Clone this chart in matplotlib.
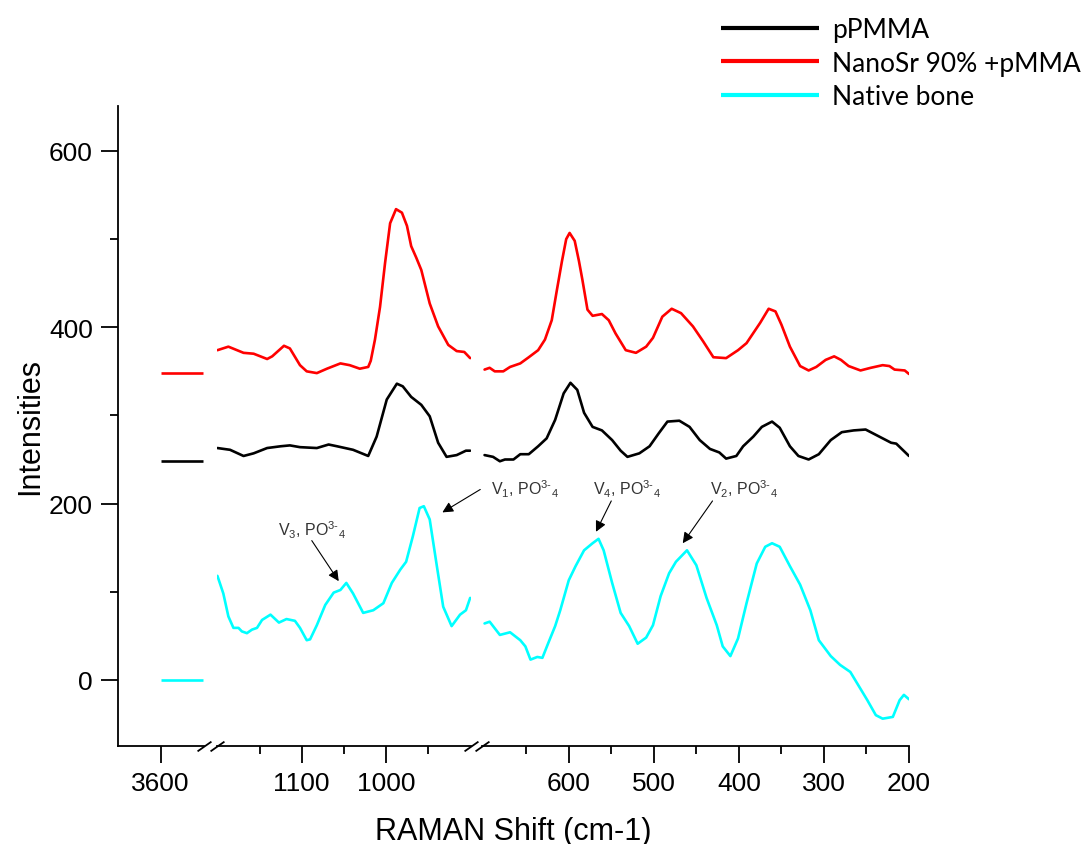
import numpy as np
import matplotlib.pyplot as plt
from matplotlib.lines import Line2D

plt.rcParams['font.family'] = ['Liberation Sans', 'DejaVu Sans']
plt.rcParams['mathtext.fontset'] = 'custom'
plt.rcParams['mathtext.rm'] = 'Liberation Sans'
plt.rcParams['mathtext.it'] = 'Liberation Sans:italic'
plt.rcParams['mathtext.default'] = 'rm'
plt.rcParams['lines.solid_joinstyle'] = 'round'
plt.rcParams['lines.solid_capstyle'] = 'round'

# ---- data ----
# short stubs near 3600 cm-1
stub_x = [3600, 3550]
stub_red = [348, 348]
stub_black = [248, 248]
stub_cyan = [0, 0]

# 1200-900 cm-1 window
red_hi_x = [1200, 1187, 1169, 1157, 1141, 1135, 1121, 1114, 1102, 1094, 1082, 1070, 1054, 1043,
            1031, 1021, 1018, 1013, 1007, 1001, 995, 988, 981, 975, 970, 964, 958, 948, 938,
            926, 916, 907, 900]
red_hi_y = [374, 378, 371, 370, 364, 367, 379, 376, 357, 350, 348, 353, 359, 357,
            353, 355, 362, 386, 423, 473, 518, 534, 530, 515, 492, 479, 465, 427, 401,
            380, 373, 372, 365]

black_hi_x = [1200, 1185, 1169, 1157, 1141, 1125, 1114, 1102, 1082, 1068, 1058, 1039, 1021, 1011,
              999, 987, 980, 970, 958, 948, 938, 928, 916, 905, 900]
black_hi_y = [263, 261, 254, 257, 263, 265, 266, 264, 263, 267, 265, 261, 254, 276,
              318, 336, 333, 321, 312, 299, 269, 253, 255, 260, 260]

cyan_hi_x = [1200, 1193, 1187, 1181, 1175, 1171, 1165, 1159, 1153, 1147, 1137, 1127, 1118, 1108,
             1102, 1094, 1090, 1082, 1072, 1062, 1054, 1047, 1039, 1027, 1015, 1003, 993, 983,
             976, 968, 960, 955, 948, 940, 932, 922, 912, 905, 900]
cyan_hi_y = [118, 98, 72, 59, 59, 55, 53, 57, 59, 68, 74, 65, 69, 67,
             59, 45, 46, 62, 85, 99, 102, 110, 98, 76, 79, 87, 110, 125,
             134, 163, 195, 197, 182, 132, 83, 61, 74, 79, 93]

# 700-200 cm-1 window
red_lo_x = [699, 693, 687, 677, 669, 657, 647, 636, 628, 620, 614, 608, 603, 599, 593, 588, 584,
            578, 572, 561, 553, 545, 533, 521, 509, 501, 490, 479, 468, 454, 442, 430, 415, 401,
            391, 375, 365, 357, 350, 340, 328, 318, 309, 298, 288, 280, 271, 257, 245, 231, 223,
            217, 205, 200]
red_lo_y = [352, 354, 350, 350, 355, 359, 366, 374, 386, 408, 442, 475, 500, 507, 498, 475, 454,
            420, 413, 415, 408, 393, 374, 371, 378, 388, 412, 421, 416, 401, 384, 366, 365, 374,
            382, 405, 421, 418, 403, 378, 356, 351, 355, 363, 367, 363, 356, 351, 354, 357, 356,
            352, 351, 347]

black_lo_x = [699, 689, 681, 675, 665, 657, 647, 636, 626, 616, 606, 598, 590, 582, 572, 561, 549,
              539, 531, 517, 505, 494, 484, 470, 458, 446, 434, 423, 415, 403, 395, 383, 373, 361,
              352, 340, 330, 318, 306, 292, 279, 265, 251, 237, 221, 215, 200]
black_lo_y = [255, 253, 248, 250, 250, 256, 256, 265, 274, 295, 325, 337, 329, 303, 287, 283, 272,
              260, 253, 257, 265, 280, 293, 294, 287, 272, 262, 258, 251, 254, 265, 276, 287, 293,
              286, 265, 254, 250, 256, 272, 281, 283, 284, 277, 269, 268, 254]

cyan_lo_x = [699, 693, 681, 669, 657, 651, 645, 637, 631, 624, 616, 610, 600, 592, 582, 572, 565,
             559, 549, 539, 529, 519, 509, 501, 492, 482, 474, 461, 450, 438, 426, 419, 410, 401,
             391, 379, 369, 361, 352, 340, 328, 316, 306, 292, 281, 269, 259, 249, 239, 231, 219,
             211, 206, 200]
cyan_lo_y = [64, 66, 51, 54, 45, 38, 23, 26, 25, 42, 61, 79, 113, 129, 147, 155, 160,
             147, 110, 76, 61, 41, 48, 62, 95, 121, 134, 147, 130, 93, 62, 38, 27, 47,
             87, 132, 151, 155, 151, 129, 108, 79, 45, 27, 17, 9, -7, -23, -40, -44, -42,
             -23, -17, -22]

labels = ['pPMMA', 'NanoSr 90% +pMMA', 'Native bone']
colors = ['black', '#ff0000', '#00ffff']

# peak labels: (text, text x, text y, arrow tail, arrow tip)
peak_hi = [('V$_3$, PO$^{3\\text{-}}{}_4$', 1128, 164, (1088, 158), (1056, 112))]
peak_gap = [((888, 216), (933, 190))]
peak_lo = [('V$_1$, PO$^{3\\text{-}}{}_4$', 691, 210, None, None),
           ('V$_4$, PO$^{3\\text{-}}{}_4$', 571, 210, (550, 203), (568, 168)),
           ('V$_2$, PO$^{3\\text{-}}{}_4$', 434, 210, (431, 203), (466, 155))]

# ---- figure: broken x axis built from three panels ----
W, H = 1086, 845
fig = plt.figure(figsize=(W / 100, H / 100), dpi=100)


def panel(x0, x1):
    return fig.add_axes([x0 / W, 1 - 747 / H, (x1 - x0) / W, (747 - 107) / H])


ax1 = panel(118, 204)
ax2 = panel(217, 471)
ax3 = panel(482, 909)

lw = 1.9
ax1.plot(stub_x, stub_black, color=colors[0], lw=lw, solid_capstyle='butt')
ax1.plot(stub_x, stub_red, color=colors[1], lw=lw, solid_capstyle='butt')
ax1.plot(stub_x, stub_cyan, color=colors[2], lw=lw, solid_capstyle='butt')
ax2.plot(black_hi_x, black_hi_y, color=colors[0], lw=lw)
ax2.plot(red_hi_x, red_hi_y, color=colors[1], lw=lw)
ax2.plot(cyan_hi_x, cyan_hi_y, color=colors[2], lw=lw)
ax3.plot(black_lo_x, black_lo_y, color=colors[0], lw=lw)
ax3.plot(red_lo_x, red_lo_y, color=colors[1], lw=lw)
ax3.plot(cyan_lo_x, cyan_lo_y, color=colors[2], lw=lw)

ax1.set_xlim(3650, 3549)
ax2.set_xlim(1200.5, 899)
ax3.set_xlim(702, 200)
ax1.set_xticks([3600])
ax2.set_xticks([1100, 1000])
ax2.set_xticks([1150, 1050, 950], minor=True)
ax3.set_xticks([600, 500, 400, 300, 200])
ax3.set_xticks([650, 550, 450, 350, 250], minor=True)

for ax in (ax1, ax2, ax3):
    ax.set_ylim(-75, 651)
    ax.spines['top'].set_visible(False)
    ax.spines['right'].set_visible(False)
    ax.spines['bottom'].set_linewidth(1.3)
    ax.tick_params(which='major', direction='out', length=12, width=1.3, labelsize=19, pad=6)
    ax.tick_params(which='minor', direction='out', length=6, width=1.3)
    ax.patch.set_visible(False)

ax1.spines['left'].set_linewidth(1.3)
ax1.set_yticks([0, 200, 400, 600])
ax1.set_yticks([100, 300, 500], minor=True)
for ax in (ax2, ax3):
    ax.spines['left'].set_visible(False)
    ax.set_yticks([])

# break marks
brk = dict(marker=[(-1, -0.7), (1, 0.7)], markersize=10, linestyle='none',
           color='k', mec='k', mew=1.3, clip_on=False)
for ax, xpos in ((ax1, 1), (ax2, 0), (ax2, 1), (ax3, 0)):
    ax.plot([xpos], [0], transform=ax.transAxes, **brk)

ax1.set_ylabel('Intensities', fontsize=22, labelpad=3)
fig.text(513.5 / W, 1 - 840 / H, 'RAMAN Shift (cm-1)', fontsize=22, ha='center', va='baseline')

# peak annotations
arrow = dict(arrowstyle='-|>', color='k', lw=0.8, mutation_scale=16, shrinkA=0, shrinkB=0)
for txt, tx, ty, tail, tip in peak_hi:
    ax2.text(tx, ty, txt, fontsize=11.5, color='#333333', va='baseline')
    ax2.annotate('', xy=tip, xytext=tail, arrowprops=arrow, annotation_clip=False)
for tail, tip in peak_gap:
    ax2.annotate('', xy=tip, xytext=tail, arrowprops=arrow, annotation_clip=False)
for txt, tx, ty, tail, tip in peak_lo:
    ax3.text(tx, ty, txt, fontsize=11.5, color='#333333', va='baseline')
    if tail is not None:
        ax3.annotate('', xy=tip, xytext=tail, arrowprops=arrow, annotation_clip=False)

handles = [Line2D([], [], color=c, lw=3, solid_capstyle='butt') for c in colors]
fig.legend(handles, labels, loc='upper left', bbox_to_anchor=(721 / W, 1 - 18 / H),
           frameon=False, prop={'family': 'Lato', 'size': 19}, handlelength=3.7,
           handletextpad=0.5, labelspacing=0.33, borderpad=0, borderaxespad=0)

fig.savefig('out.png', dpi=100)
